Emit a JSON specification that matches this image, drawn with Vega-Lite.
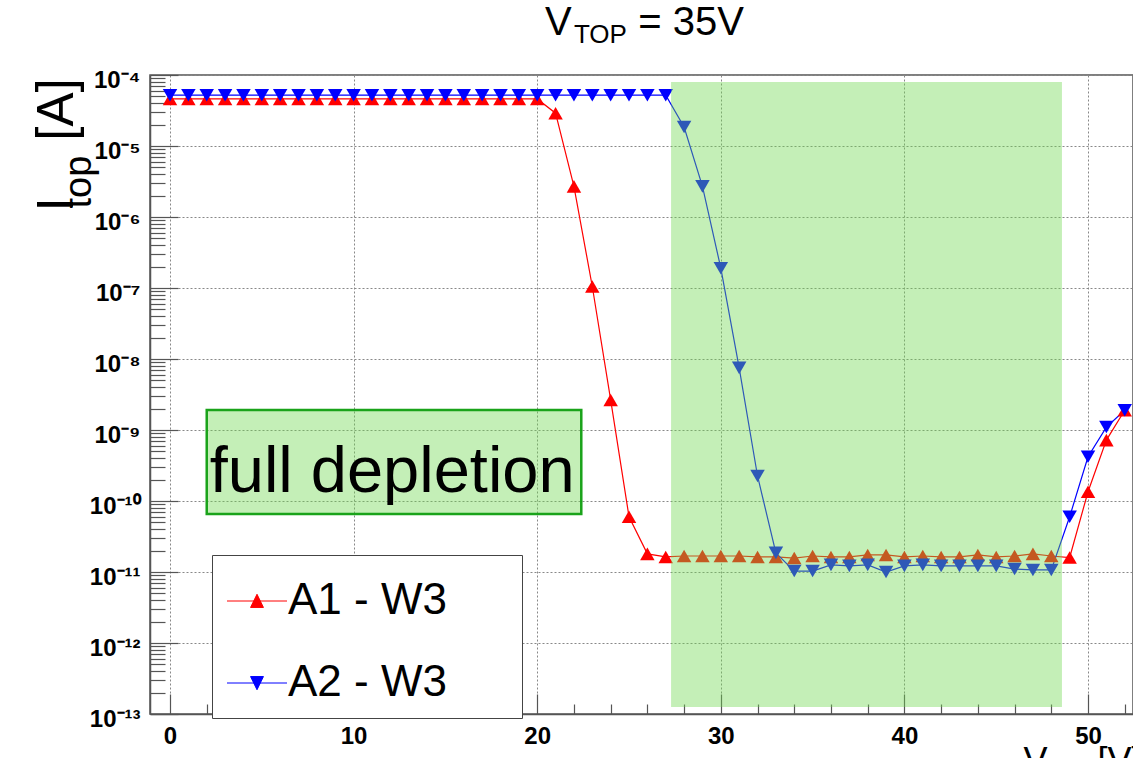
{
  "$schema": "https://vega.github.io/schema/vega-lite/v6.json",
  "width": 983,
  "height": 639,
  "autosize": {"type": "none"},
  "padding": {"left": 150, "top": 75, "right": 0, "bottom": 44},
  "background": "white",
  "config": {"view": {"stroke": "#555", "strokeWidth": 1.5}, "font": "Liberation Sans"},
  "title": {
    "text": "V\u00a0\u00a0\u00a0\u00a0\u00a0\u00a0= 35V",
    "subtitle": "\u200b\u00a0\u00a0\u00a0\u00a0TOP",
    "anchor": "start",
    "frame": "group",
    "dx": 395,
    "offset": 20,
    "font": "Liberation Sans",
    "fontSize": 40,
    "fontWeight": "normal",
    "color": "black",
    "subtitleFont": "Liberation Sans",
    "subtitleFontSize": 26,
    "subtitleColor": "black",
    "subtitlePadding": -21
  },
  "data": {"values": [
    {"V":0,"I":4.6e-5,"s":"A1 - W3"},{"V":1,"I":4.6e-5,"s":"A1 - W3"},{"V":2,"I":4.6e-5,"s":"A1 - W3"},{"V":3,"I":4.6e-5,"s":"A1 - W3"},{"V":4,"I":4.6e-5,"s":"A1 - W3"},{"V":5,"I":4.6e-5,"s":"A1 - W3"},{"V":6,"I":4.6e-5,"s":"A1 - W3"},{"V":7,"I":4.6e-5,"s":"A1 - W3"},{"V":8,"I":4.6e-5,"s":"A1 - W3"},{"V":9,"I":4.6e-5,"s":"A1 - W3"},{"V":10,"I":4.6e-5,"s":"A1 - W3"},{"V":11,"I":4.6e-5,"s":"A1 - W3"},{"V":12,"I":4.6e-5,"s":"A1 - W3"},{"V":13,"I":4.6e-5,"s":"A1 - W3"},{"V":14,"I":4.6e-5,"s":"A1 - W3"},{"V":15,"I":4.6e-5,"s":"A1 - W3"},{"V":16,"I":4.6e-5,"s":"A1 - W3"},{"V":17,"I":4.6e-5,"s":"A1 - W3"},{"V":18,"I":4.6e-5,"s":"A1 - W3"},{"V":19,"I":4.6e-5,"s":"A1 - W3"},{"V":20,"I":4.6e-5,"s":"A1 - W3"},
    {"V":21,"I":2.9e-5,"s":"A1 - W3"},{"V":22,"I":2.7e-6,"s":"A1 - W3"},{"V":23,"I":1.05e-7,"s":"A1 - W3"},{"V":24,"I":2.65e-9,"s":"A1 - W3"},{"V":25,"I":6e-11,"s":"A1 - W3"},{"V":26,"I":1.8e-11,"s":"A1 - W3"},{"V":27,"I":1.63e-11,"s":"A1 - W3"},{"V":28,"I":1.68e-11,"s":"A1 - W3"},{"V":29,"I":1.68e-11,"s":"A1 - W3"},{"V":30,"I":1.68e-11,"s":"A1 - W3"},{"V":31,"I":1.68e-11,"s":"A1 - W3"},{"V":32,"I":1.63e-11,"s":"A1 - W3"},{"V":33,"I":1.63e-11,"s":"A1 - W3"},{"V":34,"I":1.57e-11,"s":"A1 - W3"},{"V":35,"I":1.68e-11,"s":"A1 - W3"},{"V":36,"I":1.63e-11,"s":"A1 - W3"},{"V":37,"I":1.63e-11,"s":"A1 - W3"},{"V":38,"I":1.74e-11,"s":"A1 - W3"},{"V":39,"I":1.74e-11,"s":"A1 - W3"},{"V":40,"I":1.63e-11,"s":"A1 - W3"},{"V":41,"I":1.68e-11,"s":"A1 - W3"},{"V":42,"I":1.63e-11,"s":"A1 - W3"},{"V":43,"I":1.63e-11,"s":"A1 - W3"},{"V":44,"I":1.74e-11,"s":"A1 - W3"},{"V":45,"I":1.63e-11,"s":"A1 - W3"},{"V":46,"I":1.68e-11,"s":"A1 - W3"},{"V":47,"I":1.8e-11,"s":"A1 - W3"},{"V":48,"I":1.68e-11,"s":"A1 - W3"},{"V":49,"I":1.6e-11,"s":"A1 - W3"},{"V":50,"I":1.35e-10,"s":"A1 - W3"},{"V":51,"I":7.2e-10,"s":"A1 - W3"},{"V":52,"I":1.9e-9,"s":"A1 - W3"},
    {"V":0,"I":5.2e-5,"s":"A2 - W3"},{"V":1,"I":5.2e-5,"s":"A2 - W3"},{"V":2,"I":5.2e-5,"s":"A2 - W3"},{"V":3,"I":5.2e-5,"s":"A2 - W3"},{"V":4,"I":5.2e-5,"s":"A2 - W3"},{"V":5,"I":5.2e-5,"s":"A2 - W3"},{"V":6,"I":5.2e-5,"s":"A2 - W3"},{"V":7,"I":5.2e-5,"s":"A2 - W3"},{"V":8,"I":5.2e-5,"s":"A2 - W3"},{"V":9,"I":5.2e-5,"s":"A2 - W3"},{"V":10,"I":5.2e-5,"s":"A2 - W3"},{"V":11,"I":5.2e-5,"s":"A2 - W3"},{"V":12,"I":5.2e-5,"s":"A2 - W3"},{"V":13,"I":5.2e-5,"s":"A2 - W3"},{"V":14,"I":5.2e-5,"s":"A2 - W3"},{"V":15,"I":5.2e-5,"s":"A2 - W3"},{"V":16,"I":5.2e-5,"s":"A2 - W3"},{"V":17,"I":5.2e-5,"s":"A2 - W3"},{"V":18,"I":5.2e-5,"s":"A2 - W3"},{"V":19,"I":5.2e-5,"s":"A2 - W3"},{"V":20,"I":5.2e-5,"s":"A2 - W3"},{"V":21,"I":5.2e-5,"s":"A2 - W3"},{"V":22,"I":5.2e-5,"s":"A2 - W3"},{"V":23,"I":5.2e-5,"s":"A2 - W3"},{"V":24,"I":5.2e-5,"s":"A2 - W3"},{"V":25,"I":5.2e-5,"s":"A2 - W3"},{"V":26,"I":5.2e-5,"s":"A2 - W3"},{"V":27,"I":5.2e-5,"s":"A2 - W3"},
    {"V":28,"I":1.85e-5,"s":"A2 - W3"},{"V":29,"I":2.7e-6,"s":"A2 - W3"},{"V":30,"I":1.9e-7,"s":"A2 - W3"},{"V":31,"I":7.5e-9,"s":"A2 - W3"},{"V":32,"I":2.25e-10,"s":"A2 - W3"},{"V":33,"I":1.86e-11,"s":"A2 - W3"},{"V":34,"I":1.03e-11,"s":"A2 - W3"},{"V":35,"I":1.03e-11,"s":"A2 - W3"},{"V":36,"I":1.26e-11,"s":"A2 - W3"},{"V":37,"I":1.22e-11,"s":"A2 - W3"},{"V":38,"I":1.26e-11,"s":"A2 - W3"},{"V":39,"I":1.0e-11,"s":"A2 - W3"},{"V":40,"I":1.22e-11,"s":"A2 - W3"},{"V":41,"I":1.26e-11,"s":"A2 - W3"},{"V":42,"I":1.22e-11,"s":"A2 - W3"},{"V":43,"I":1.22e-11,"s":"A2 - W3"},{"V":44,"I":1.22e-11,"s":"A2 - W3"},{"V":45,"I":1.22e-11,"s":"A2 - W3"},{"V":46,"I":1.1e-11,"s":"A2 - W3"},{"V":47,"I":1.07e-11,"s":"A2 - W3"},{"V":48,"I":1.07e-11,"s":"A2 - W3"},{"V":49,"I":6e-11,"s":"A2 - W3"},{"V":50,"I":4.2e-10,"s":"A2 - W3"},{"V":51,"I":1.1e-9,"s":"A2 - W3"},{"V":52,"I":1.9e-9,"s":"A2 - W3"}
  ]},
  "layer": [
    {
      "transform": [{"filter": "datum.V > 1000"}],
      "mark": {"type": "point", "filled": true, "opacity": 1},
      "encoding": {
        "x": {"field": "V", "type": "quantitative",
          "scale": {"domain": [-1.09, 52.45], "nice": false, "zero": false},
          "axis": {"orient": "bottom", "values": [2,4,6,8,12,14,16,18,22,24,26,28,32,34,36,38,42,44,46,48,52], "tickSize": -10, "tickColor": "#555", "tickWidth": 1.2, "labels": false, "domain": false, "grid": false, "title": null}},
        "y": {"field": "I", "type": "quantitative",
          "scale": {"type": "log", "domain": [1e-13, 1e-4], "nice": false},
          "axis": {"orient": "left", "values": [2e-13,3e-13,4e-13,5e-13,6e-13,7e-13,8e-13,9e-13,2e-12,3e-12,4e-12,5e-12,6e-12,7e-12,8e-12,9e-12,2e-11,3e-11,4e-11,5e-11,6e-11,7e-11,8e-11,9e-11,2e-10,3e-10,4e-10,5e-10,6e-10,7e-10,8e-10,9e-10,2e-9,3e-9,4e-9,5e-9,6e-9,7e-9,8e-9,9e-9,2e-8,3e-8,4e-8,5e-8,6e-8,7e-8,8e-8,9e-8,2e-7,3e-7,4e-7,5e-7,6e-7,7e-7,8e-7,9e-7,2e-6,3e-6,4e-6,5e-6,6e-6,7e-6,8e-6,9e-6,2e-5,3e-5,4e-5,5e-5,6e-5,7e-5,8e-5,9e-5], "tickSize": -15, "tickColor": "#555", "tickWidth": 1.2, "labels": false, "domain": false, "grid": false,
            "title": "top", "titleFont": "Liberation Sans", "titleFontSize": 38, "titleFontWeight": "normal", "titleColor": "black", "titleAngle": 270, "titleAlign": "left", "titleBaseline": "alphabetic", "titleX": -60, "titleY": 133}},
        "fill": {"field": "s", "type": "nominal", "scale": {"domain": ["A1 - W3", "A2 - W3"], "range": ["#ff0000", "#0000ff"]},
          "legend": {"orient": "none", "legendX": 62, "legendY": 480, "title": "\u00a0", "titleFontSize": 6, "titlePadding": 5, "padding": 13, "rowPadding": 38, "symbolSize": 900, "symbolStrokeWidth": 1, "symbolOpacity": 1, "symbolOffset": 10, "labelOffset": 9, "labelFontSize": 44, "labelFont": "Liberation Sans", "labelColor": "black", "labelLimit": 600, "labelExpr": "datum.label + '\u00a0\u00a0\u00a0\u00a0\u00a0\u200b'", "fillColor": "white", "strokeColor": "#444"}},
        "stroke": {"field": "s", "type": "nominal", "scale": {"domain": ["A1 - W3", "A2 - W3"], "range": ["#ff0000", "#0000ff"]},
          "legend": {"orient": "none", "legendX": 62, "legendY": 480, "title": "\u00a0", "titleFontSize": 6, "titlePadding": 5, "padding": 13, "rowPadding": 38, "symbolSize": 900, "symbolStrokeWidth": 1, "symbolOpacity": 1, "symbolOffset": 10, "labelOffset": 9, "labelFontSize": 44, "labelFont": "Liberation Sans", "labelColor": "black", "labelLimit": 600, "labelExpr": "datum.label + '\u00a0\u00a0\u00a0\u00a0\u00a0\u200b'", "fillColor": "white", "strokeColor": "#444"}},
        "shape": {"field": "s", "type": "nominal", "scale": {"domain": ["A1 - W3", "A2 - W3"], "range": ["M-2,0H2M0,-0.45L0.43,0.43L-0.43,0.43Z", "M-2,0H2M0,0.45L0.43,-0.43L-0.43,-0.43Z"]},
          "legend": {"orient": "none", "legendX": 62, "legendY": 480, "title": "\u00a0", "titleFontSize": 6, "titlePadding": 5, "padding": 13, "rowPadding": 38, "symbolSize": 900, "symbolStrokeWidth": 1, "symbolOpacity": 1, "symbolOffset": 10, "labelOffset": 9, "labelFontSize": 44, "labelFont": "Liberation Sans", "labelColor": "black", "labelLimit": 600, "labelExpr": "datum.label + '\u00a0\u00a0\u00a0\u00a0\u00a0\u200b'", "fillColor": "white", "strokeColor": "#444"}}
      }
    },
    {
      "mark": {"type": "line", "strokeWidth": 1.2, "clip": true},
      "encoding": {
        "x": {"field": "V", "type": "quantitative",
          "scale": {"domain": [-1.09, 52.45], "nice": false, "zero": false},
          "axis": {"orient": "bottom", "values": [0,10,20,30,40,50], "labelFont": "Liberation Sans", "labelFontWeight": "bold", "labelFontSize": 24, "labelColor": "black", "labelFlush": false, "tickSize": -20, "tickColor": "#555", "tickWidth": 1.2, "labelPadding": 30, "domainColor": "#555", "domainWidth": 1.5, "grid": true, "gridColor": "#888", "gridDash": [2, 2], "gridWidth": 1,
            "title": "V\u00a0\u00a0\u00a0\u00a0\u00a0[V]", "titleFont": "Liberation Sans", "titleFontSize": 36, "titleFontWeight": "normal", "titleColor": "black", "titleAlign": "left", "titleBaseline": "alphabetic", "titleX": 873, "titleY": 58}},
        "y": {"field": "I", "type": "quantitative",
          "scale": {"type": "log", "domain": [1e-13, 1e-4], "nice": false},
          "axis": {"orient": "left", "values": [1e-13,1e-12,1e-11,1e-10,1e-9,1e-8,1e-7,1e-6,1e-5,1e-4], "labelExpr": "'10⁻' + ['⁰','¹','²','³','⁴','⁵','⁶','⁷','⁸','⁹','¹⁰','¹¹','¹²','¹³'][round(-log(datum.value)/LN10)]", "labelFont": "Liberation Sans", "labelFontWeight": "bold", "labelFontSize": 24, "labelColor": "black", "labelOverlap": false, "labelFlush": false, "labelBaseline": "middle", "labelOffset": 5, "tickSize": -28, "tickColor": "#555", "tickWidth": 1.2, "labelPadding": 38, "domainColor": "#555", "domainWidth": 1.5, "grid": true, "gridColor": "#888", "gridDash": [2, 2], "gridWidth": 1,
            "title": "I\u00a0\u00a0\u00a0\u00a0[A]", "titleFont": "Liberation Sans", "titleFontSize": 51, "titleFontWeight": "normal", "titleColor": "black", "titleAngle": 270, "titleAlign": "left", "titleBaseline": "alphabetic", "titleX": -78, "titleY": 136}},
        "color": {"field": "s", "type": "nominal", "scale": {"domain": ["A1 - W3", "A2 - W3"], "range": ["#ff0000", "#0000ff"]}, "legend": null}
      }
    },
    {
      "transform": [{"filter": "datum.s == 'A1 - W3'"}],
      "mark": {"type": "point", "shape": "triangle-up", "filled": true, "size": 210, "color": "#ff0000", "opacity": 1, "clip": true},
      "encoding": {
        "x": {"field": "V", "type": "quantitative", "axis": null},
        "y": {"field": "I", "type": "quantitative", "axis": null}
      }
    },
    {
      "transform": [{"filter": "datum.s == 'A2 - W3'"}],
      "mark": {"type": "point", "shape": "triangle-down", "filled": true, "size": 210, "color": "#0000ff", "opacity": 1, "clip": true},
      "encoding": {
        "x": {"field": "V", "type": "quantitative", "axis": null},
        "y": {"field": "I", "type": "quantitative", "axis": null}
      }
    },
    {
      "data": {"values": [{}]},
      "mark": {"type": "rect", "color": "#70d850", "opacity": 0.41},
      "encoding": {
        "x": {"datum": 27.29, "type": "quantitative", "axis": null},
        "x2": {"datum": 48.58},
        "y": {"datum": 8e-5, "type": "quantitative", "axis": null},
        "y2": {"datum": 1.25e-13}
      }
    },
    {
      "data": {"values": [{}]},
      "mark": {"type": "rect", "fill": "#70d850", "fillOpacity": 0.41, "stroke": "#1aa31a", "strokeWidth": 2.5},
      "encoding": {
        "x": {"datum": 2.0, "type": "quantitative", "axis": null},
        "x2": {"datum": 22.4},
        "y": {"datum": 1.91e-9, "type": "quantitative", "axis": null},
        "y2": {"datum": 6.56e-11}
      }
    },
    {
      "data": {"values": [{}]},
      "mark": {"type": "text", "text": "full depletion", "font": "Liberation Sans", "fontSize": 65, "color": "black", "align": "center", "baseline": "alphabetic"},
      "encoding": {
        "x": {"datum": 12.1, "type": "quantitative", "axis": null},
        "y": {"datum": 1.34e-10, "type": "quantitative", "axis": null}
      }
    }
  ],
  "resolve": {"axis": {"x": "independent", "y": "independent"}}
}
